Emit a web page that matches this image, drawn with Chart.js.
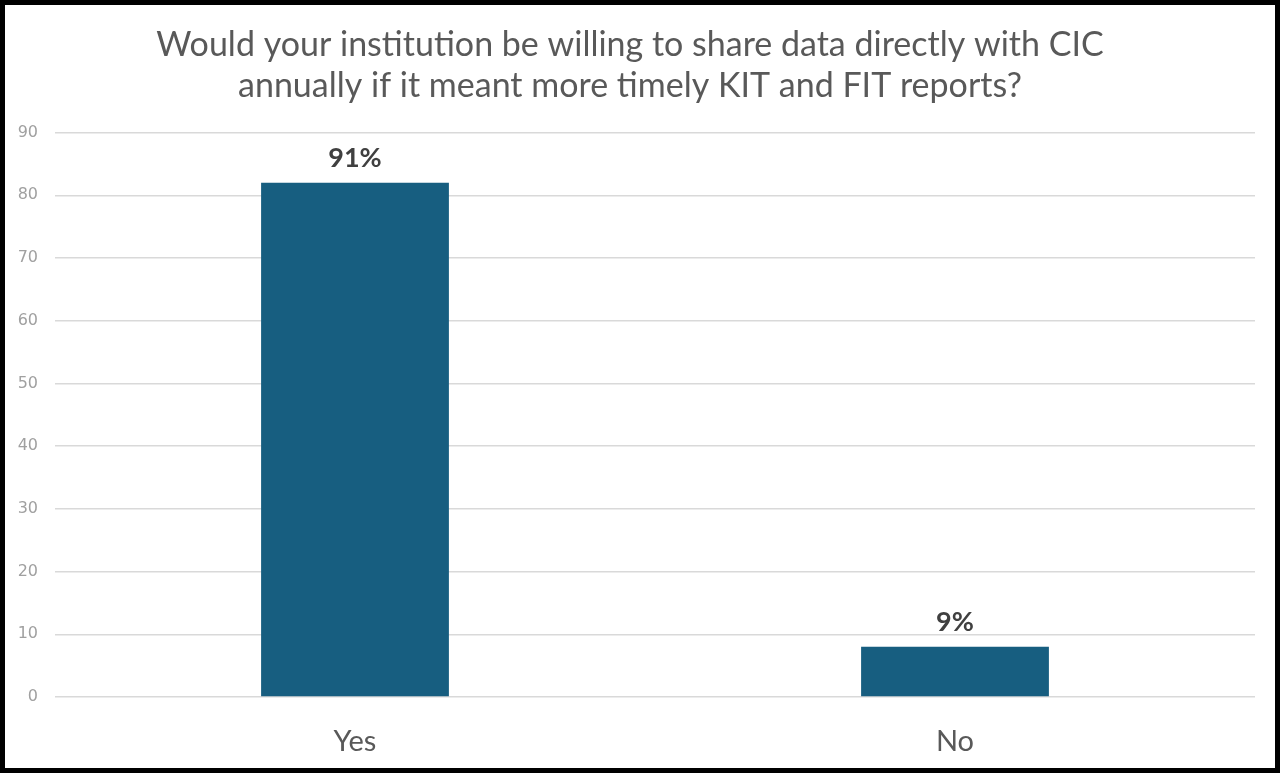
<!DOCTYPE html>
<html>
<head>
<meta charset="utf-8">
<script src="https://cdn.jsdelivr.net/npm/chart.js@4"></script>
<style>
  html, body { margin: 0; padding: 0; background: #fff; }
  .frame { width: 1270px; height: 763px; border: 5px solid #000; background: #fff; }
  canvas { display: block; }
</style>
</head>
<body>
<div class="frame"><canvas id="chart" width="1270" height="763"></canvas></div>
<script>
const categories = ['Yes', 'No'];
const responses = [82, 8];
const pctLabels = ['91%', '9%'];
const yTicks = [0, 10, 20, 30, 40, 50, 60, 70, 80, 90];

// draws the percentage on top of each bar
const barLabels = {
  id: 'barLabels',
  afterDatasetsDraw(chart) {
    const ctx = chart.ctx;
    const meta = chart.getDatasetMeta(0);
    ctx.save();
    ctx.font = 'bold 27px Lato, "Open Sans", sans-serif';
    ctx.fillStyle = '#404040';
    ctx.textAlign = 'center';
    ctx.textBaseline = 'bottom';
    meta.data.forEach((bar, i) => {
      ctx.fillText(pctLabels[i], bar.x, bar.y - 11);
    });
    ctx.restore();
  }
};

new Chart(document.getElementById('chart').getContext('2d'), {
  type: 'bar',
  data: {
    labels: categories,
    datasets: [{
      data: responses,
      backgroundColor: '#175E80',
      barPercentage: 0.313,
      categoryPercentage: 1
    }]
  },
  options: {
    responsive: false,
    animation: false,
    layout: { padding: { top: 0, right: 20, bottom: 0, left: 0 } },
    plugins: {
      legend: { display: false },
      tooltip: { enabled: false },
      title: {
        display: true,
        text: ['Would your institution be willing to share data directly with CIC', 'annually if it meant more timely KIT and FIT reports?'],
        color: '#595959',
        font: { family: 'Lato, "Open Sans", sans-serif', size: 34, weight: 'normal', lineHeight: 1.2 },
        padding: { top: 20, bottom: 26 }
      }
    },
    scales: {
      x: {
        afterFit(scale) { scale.height = 71; },
        grid: { display: false, drawTicks: false },
        border: { display: false },
        ticks: { color: '#595959', font: { family: 'Lato, "Open Sans", sans-serif', size: 29 }, padding: 27 }
      },
      y: {
        min: 0,
        max: 90,
        afterFit(scale) { scale.width = 50; },
        afterBuildTicks(scale) { scale.ticks = yTicks.map(v => ({ value: v })); },
        grid: { color: '#d9d9d9', lineWidth: 1.5, drawTicks: false },
        border: { display: false },
        ticks: { color: '#a0a0a0', font: { family: '"DejaVu Sans", sans-serif', size: 16 }, padding: 17 }
      }
    }
  },
  plugins: [barLabels]
});
</script>
</body>
</html>
